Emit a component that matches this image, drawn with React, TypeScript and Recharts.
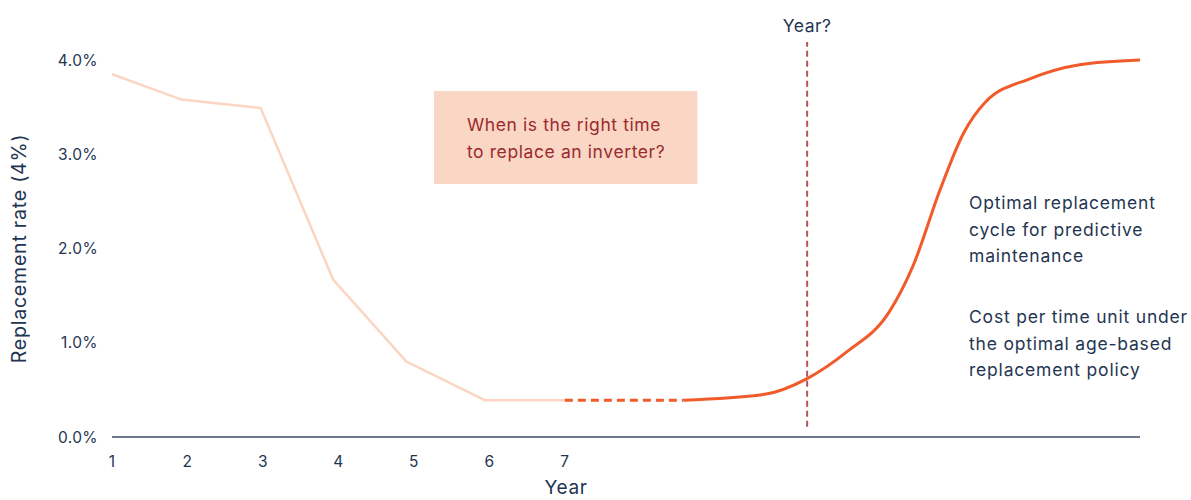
import { Line, LineChart, ReferenceArea, ReferenceLine, XAxis, YAxis } from "recharts";

// history of observed replacement rate (% per year)
const historyX = [1, 1.92, 2.97, 3.93, 4.9, 5.94, 7];
const historyY = [3.85, 3.58, 3.49, 1.67, 0.8, 0.39, 0.39];

// flat forecast bridge
const bridgeX = [7, 8.57];
const bridgeY = [0.39, 0.39];

// wear-out curve
const wearX = [8.57, 9.63, 10.21, 10.73, 11.3, 11.61, 11.97, 12.28, 12.58, 13.16, 13.82, 14.62];
const wearY = [0.39, 0.45, 0.62, 0.9, 1.33, 1.81, 2.62, 3.22, 3.56, 3.8, 3.95, 4.0];

const xTicks = [1, 2, 3, 4, 5, 6, 7];
const yTicks = [0, 1, 2, 3, 4];

const decisionYear = 10.21;
const questionLines = ["When is the right time", "to replace an inverter?"];
const noteA = ["Optimal replacement", "cycle for predictive", "maintenance"];
const noteB = ["Cost per time unit under", "the optimal age-based", "replacement policy"];

const toPoints = (xs: number[], ys: number[]) => xs.map((x, i) => ({ x, y: ys[i] }));

const NAVY = "#1f3552";
const FONT = "Inter, 'Open Sans', sans-serif";

function QuestionLabel(props: any) {
  const { viewBox } = props;
  const left = viewBox.x + 33;
  const top = viewBox.y;
  return (
    <text x={left} fill="#9b2a30" fontSize={17.5} fontFamily={FONT} style={{ letterSpacing: 0.6 }}>
      {questionLines.map((t, i) => (
        <tspan key={i} x={left} y={top + 40 + i * 27}>
          {t}
        </tspan>
      ))}
    </text>
  );
}

function Note({ lines, top }: { lines: string[]; top: number }) {
  return (
    <div
      style={{
        position: "absolute",
        left: 969,
        top,
        color: NAVY,
        fontFamily: FONT,
        fontSize: 17.5,
        letterSpacing: 0.8,
        lineHeight: "26.5px",
        whiteSpace: "nowrap",
      }}
    >
      {lines.map((l, i) => (
        <div key={i}>{l}</div>
      ))}
    </div>
  );
}

export default function App() {
  return (
    <div style={{ position: "absolute", left: 0, top: 0, width: 1191, height: 500, background: "#fff" }}>
      <LineChart width={1191} height={500} margin={{ top: 60, right: 51, bottom: 0, left: 0 }}>
        <XAxis
          type="number"
          dataKey="x"
          domain={[1, 14.62]}
          ticks={xTicks}
          allowDataOverflow
          height={63}
          axisLine={{ stroke: "#3b4c66", strokeWidth: 1.5 }}
          tickLine={false}
          tickMargin={13}
          tick={{ fill: NAVY, fontSize: 15.5, fontFamily: FONT, style: { letterSpacing: 0.4 } }}
          label={{ value: "Year", position: "insideBottom", dx: -60, offset: 6, fill: NAVY, fontSize: 19, fontFamily: FONT, style: { letterSpacing: 0.6 } }}
        />
        <YAxis
          type="number"
          domain={[0, 4]}
          ticks={yTicks}
          width={112}
          axisLine={false}
          tickLine={false}
          tickMargin={8}
          tickFormatter={(v: number) => `${v.toFixed(1)}%`}
          tick={{ fill: NAVY, fontSize: 15.5, fontFamily: FONT, style: { letterSpacing: 0.4 } }}
          label={{ value: "Replacement rate (4%)", angle: -90, position: "insideLeft", dx: 14, fill: NAVY, fontSize: 19.5, fontFamily: FONT, style: { textAnchor: "middle", letterSpacing: 0.8 } }}
        />
        <ReferenceArea
          x1={5.265}
          x2={8.755}
          y1={2.685}
          y2={3.67}
          fill="#fad6c4"
          fillOpacity={1}
          stroke="none"
          ifOverflow="visible"
          label={<QuestionLabel />}
        />
        <Line
          data={toPoints(historyX, historyY)}
          dataKey="y"
          type="linear"
          stroke="#fbd5c2"
          strokeWidth={2.5}
          dot={false}
          isAnimationActive={false}
        />
        <Line
          data={toPoints(bridgeX, bridgeY)}
          dataKey="y"
          type="linear"
          stroke="#f15a2b"
          strokeWidth={3}
          strokeDasharray="8 5"
          dot={false}
          isAnimationActive={false}
        />
        <Line
          data={toPoints(wearX, wearY)}
          dataKey="y"
          type="monotone"
          stroke="#f15a2b"
          strokeWidth={3}
          dot={false}
          isAnimationActive={false}
        />
        <ReferenceLine
          segment={[
            { x: decisionYear, y: 0.11 },
            { x: decisionYear, y: 4.19 },
          ]}
          ifOverflow="visible"
          stroke="#b5545a"
          strokeWidth={2}
          strokeDasharray="6 4"
          label={{ value: "Year?", position: "top", offset: 10, fill: NAVY, fontSize: 17.5, fontFamily: FONT, style: { letterSpacing: 0.5 } }}
        />
      </LineChart>
      <Note lines={noteA} top={190} />
      <Note lines={noteB} top={304} />
    </div>
  );
}
